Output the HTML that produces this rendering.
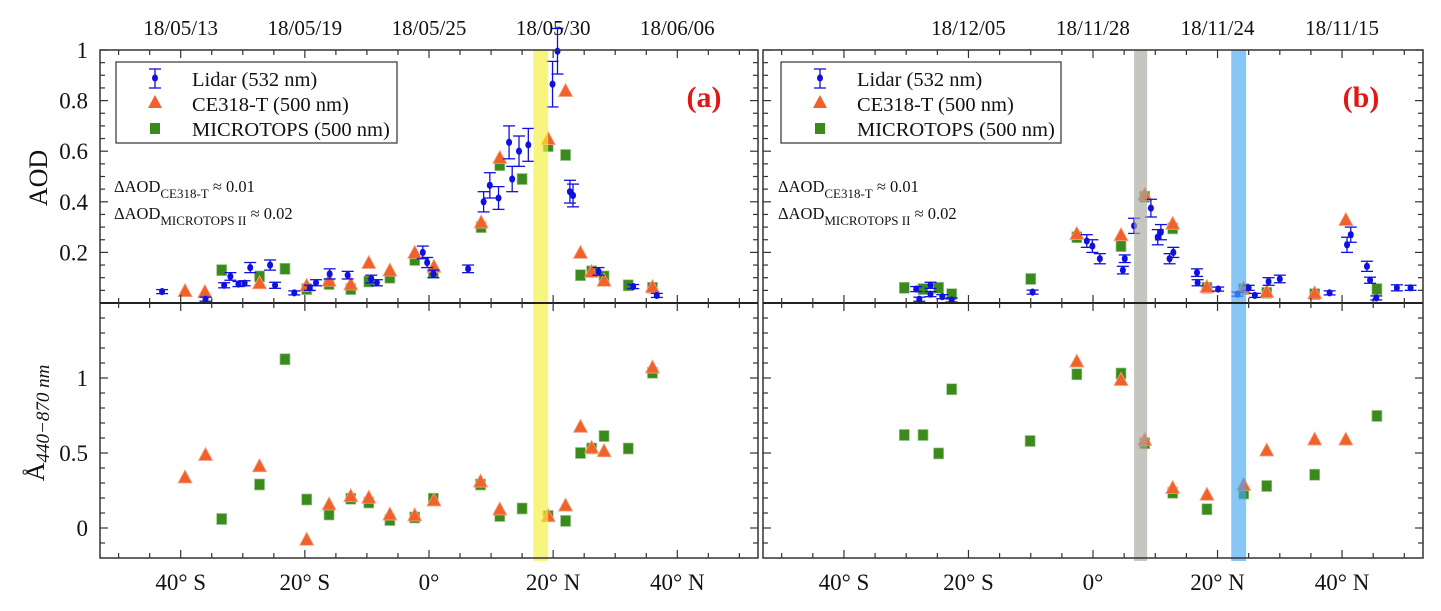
<!DOCTYPE html>
<html><head><meta charset="utf-8">
<style>
html,body{margin:0;padding:0;background:#fff;}
svg{display:block;font-family:"Liberation Serif",serif;}
</style></head>
<body>
<svg id="chart" width="1441" height="611" viewBox="0 0 1441 611" xmlns="http://www.w3.org/2000/svg"></svg>
<script>
// ---------- data (latitude in degrees, +N / -S) ----------
// Panel (a)
const aLidarLat = [-43,-36,-33,-32,-30.7,-29.7,-28.8,-25.6,-24.8,-21.7,-19.2,-18.2,-16,-13.1,-9.3,-8.4,-1,-0.3,0.7,6.3,8.8,9.8,11.2,12.9,13.4,14.5,16,19.9,20.7,22.7,23.2,27.3,32.9,36.7];
const aLidarAod = [0.045,0.015,0.07,0.105,0.075,0.078,0.14,0.15,0.07,0.04,0.06,0.08,0.115,0.11,0.095,0.08,0.20,0.16,0.115,0.135,0.40,0.465,0.415,0.635,0.49,0.60,0.625,0.865,0.995,0.44,0.425,0.125,0.065,0.03];
const aLidarErr = [0.008,0.008,0.01,0.015,0.01,0.01,0.02,0.02,0.012,0.008,0.01,0.012,0.02,0.015,0.015,0.012,0.025,0.02,0.015,0.015,0.04,0.05,0.045,0.065,0.05,0.06,0.065,0.09,0.09,0.045,0.045,0.015,0.008,0.008];
const aCeLat = [-39.3,-36.1,-27.3,-19.7,-16.1,-12.6,-9.7,-6.3,-2.3,0.8,8.4,11.4,19.2,22,24.4,26.2,28.2,36];
const aCeAod = [0.049,0.045,0.08,0.07,0.09,0.075,0.16,0.13,0.20,0.145,0.32,0.575,0.65,0.84,0.20,0.125,0.09,0.065];
const aMtLat = [-33.4,-27.3,-23.2,-19.7,-16.1,-12.6,-9.7,-6.3,-2.3,0.7,8.4,11.4,15,19.2,22,24.4,26.2,28.2,32.1,36];
const aMtAod = [0.13,0.105,0.135,0.055,0.075,0.055,0.085,0.1,0.17,0.12,0.30,0.545,0.49,0.62,0.585,0.11,0.125,0.105,0.07,0.06];
const aCeAngLat = [-39.3,-36,-27.3,-19.7,-16.1,-12.6,-9.7,-6.3,-2.3,0.8,8.3,11.4,19.2,22,24.4,26.2,28.2,36];
const aCeAng = [0.34,0.49,0.415,-0.075,0.16,0.215,0.205,0.093,0.087,0.187,0.313,0.127,0.082,0.153,0.678,0.538,0.515,1.073];
const aMtAngLat = [-33.4,-27.3,-23.2,-19.7,-16.1,-12.6,-9.7,-6.3,-2.3,0.7,8.3,11.4,15,19.2,22,24.4,26.2,28.2,32.1,36];
const aMtAng = [0.06,0.29,1.125,0.19,0.09,0.195,0.17,0.053,0.07,0.195,0.29,0.08,0.13,0.08,0.047,0.50,0.53,0.613,0.53,1.035];
// Panel (b)
const bLidarLat = [-28.4,-27.9,-26.1,-26.1,-24.2,-22.7,-9.7,-1,-0.1,1.1,4.8,5.1,6.6,9.3,10.4,10.9,12.3,12.9,16.7,16.8,20.1,23.2,25,26,28.2,30,38,40.8,41.4,44,44.5,45.5,48.8,51];
const bLidarAod = [0.055,0.015,0.035,0.07,0.025,0.012,0.043,0.245,0.225,0.175,0.13,0.175,0.305,0.375,0.26,0.28,0.175,0.2,0.12,0.08,0.055,0.035,0.06,0.03,0.085,0.095,0.04,0.23,0.27,0.145,0.09,0.02,0.06,0.06];
const bLidarErr = [0.01,0.008,0.01,0.012,0.008,0.008,0.008,0.025,0.025,0.02,0.015,0.015,0.03,0.035,0.03,0.03,0.02,0.02,0.015,0.012,0.008,0.008,0.01,0.008,0.015,0.015,0.008,0.03,0.03,0.02,0.012,0.008,0.012,0.01];
const bCeLat = [-2.6,4.5,8.3,12.8,18.3,24.2,27.9,35.6,40.6];
const bCeAod = [0.275,0.27,0.43,0.315,0.065,0.06,0.045,0.04,0.33];
const bMtLat = [-30.3,-27.3,-24.8,-22.7,-10,-2.6,4.5,8.3,12.8,18.3,24.2,27.9,35.6,45.6];
const bMtAod = [0.06,0.055,0.06,0.035,0.095,0.26,0.225,0.42,0.295,0.06,0.055,0.04,0.035,0.055];
const bCeAngLat = [-2.6,4.5,8.3,12.8,18.3,24.2,27.9,35.6,40.6];
const bCeAng = [1.113,0.99,0.59,0.27,0.225,0.29,0.52,0.593,0.593];
const bMtAngLat = [-30.3,-27.3,-24.8,-22.7,-10.1,-2.6,4.5,8.3,12.8,18.3,24.2,27.9,35.6,45.6];
const bMtAng = [0.62,0.62,0.497,0.925,0.58,1.025,1.03,0.565,0.235,0.125,0.23,0.28,0.355,0.747];
// axis labels
const xTickLats = [-40,-20,0,20,40];
const xTickLabels = ["40° S","20° S","0°","20° N","40° N"];
const aDateLabels = ["18/05/13","18/05/19","18/05/25","18/05/30","18/06/06"];
const bDateLabels = ["18/12/05","18/11/28","18/11/24","18/11/15"];
const bDateLats = [-20,0,20,40];
const aodTicks = [0.2,0.4,0.6,0.8,1];
const aodTickLabels = ["0.2","0.4","0.6","0.8","1"];
const angTicks = [0,0.5,1];
const angTickLabels = ["0","0.5","1"];
// shaded bands (lat ranges)
const aBand = [16.8,19.2];
const bGrayBand = [6.6,8.7];
const bBlueBand = [22.2,24.6];

// ---------- geometry ----------
const NS = "http://www.w3.org/2000/svg";
const svg = document.getElementById('chart');
const TOP = 50, MID = 303, BOT = 558;
const panels = {a:{x0:100,x1:758}, b:{x0:763,x1:1423}};
const LATMIN = -53, LATMAX = 53;
function xs(p, lat){ const P = panels[p]; return P.x0 + (lat - LATMIN)/(LATMAX - LATMIN)*(P.x1 - P.x0); }
function yAod(v){ return MID - v*(MID - TOP); }
function yAng(v){ return MID + (1.5 - v)/1.7*(BOT - MID); }
function el(tag, attrs, parent){ const e = document.createElementNS(NS, tag); for (const k in attrs) e.setAttribute(k, attrs[k]); (parent||svg).appendChild(e); return e; }
function txt(str, attrs, parent){ const e = el('text', attrs, parent); e.textContent = str; return e; }

const BLUE = "#1010e0", ORANGE = "#f0622a", GREEN = "#3a8a1c";

function drawLidar(p, lats, vals, errs, g){
  lats.forEach((lat,i)=>{
    const x = xs(p,lat), y = yAod(vals[i]), e = errs[i]*(MID-TOP);
    const grp = el('g', {}, g);
    
    
    el('line',{x1:x,y1:y-e,x2:x,y2:y+e,stroke:BLUE,'stroke-width':1.3},grp);
    el('line',{x1:x-6,y1:y-e,x2:x+6,y2:y-e,stroke:BLUE,'stroke-width':1.3},grp);
    el('line',{x1:x-6,y1:y+e,x2:x+6,y2:y+e,stroke:BLUE,'stroke-width':1.3},grp);
    el('ellipse',{cx:x,cy:y,rx:3,ry:3.6,fill:BLUE},grp);
  });
}
function drawTri(p, lats, vals, yfn, g){
  lats.forEach((lat,i)=>{
    const x = xs(p,lat), y = yfn(vals[i]);
    const t = el('polygon',{points:`${x},${y-7} ${x-7},${y+6} ${x+7},${y+6}`,fill:ORANGE,stroke:"#f6a080",'stroke-width':0.8},g);
    
    
  });
}
function drawSq(p, lats, vals, yfn, g){
  lats.forEach((lat,i)=>{
    const x = xs(p,lat), y = yfn(vals[i]);
    const s = el('rect',{x:x-5,y:y-5.5,width:10,height:11,fill:GREEN,stroke:"#9cc48a",'stroke-width':0.7},g);
    
    
  });
}

function drawPanel(p){
  const P = panels[p];
  const g = el('g',{});
  
  
  // data
  if (p==='a'){
    drawSq(p,aMtLat,aMtAod,yAod,g); drawTri(p,aCeLat,aCeAod,yAod,g); drawLidar(p,aLidarLat,aLidarAod,aLidarErr,g);
    drawSq(p,aMtAngLat,aMtAng,yAng,g); drawTri(p,aCeAngLat,aCeAng,yAng,g);
  } else {
    drawSq(p,bMtLat,bMtAod,yAod,g); drawTri(p,bCeLat,bCeAod,yAod,g); drawLidar(p,bLidarLat,bLidarAod,bLidarErr,g);
    drawSq(p,bMtAngLat,bMtAng,yAng,g); drawTri(p,bCeAngLat,bCeAng,yAng,g);
  }
  // bands
  const bands = p==='a' ? [[aBand,"#f5ef3a"]] : [[bGrayBand,"#a8a8a0"],[bBlueBand,"#4aa8f5"]];
  bands.forEach(([b,c])=>{
    const r = el('rect',{x:xs(p,b[0]),y:TOP,width:xs(p,b[1])-xs(p,b[0]),height:BOT-TOP+3,fill:c,opacity:0.65},g);
    
    
  });
  // frame
  el('rect',{x:P.x0,y:TOP,width:P.x1-P.x0,height:BOT-TOP,fill:'none',stroke:'#333','stroke-width':1.5},g);
  el('line',{x1:P.x0,y1:MID,x2:P.x1,y2:MID,stroke:'#222','stroke-width':2},g);
  // x ticks
  for (let lat=-50; lat<=50; lat+=5){
    const x = xs(p,lat), L = (lat%20===0)?8:5;
    [[TOP,1],[BOT,-1],[MID,1],[MID,-1]].forEach(([y,d])=>{
      el('line',{x1:x,y1:y,x2:x,y2:y+d*L,stroke:'#333','stroke-width':1.2},g);
    });
  }
  // y ticks top
  for (let v=0.05; v<1.0001; v+=0.05){
    const y = yAod(v), major = Math.abs(v/0.2-Math.round(v/0.2))<1e-6, L = major?8:5;
    el('line',{x1:P.x0,y1:y,x2:P.x0+L,y2:y,stroke:'#333','stroke-width':1.2},g);
    el('line',{x1:P.x1,y1:y,x2:P.x1-L,y2:y,stroke:'#333','stroke-width':1.2},g);
  }
  for (let v=-0.1; v<1.5; v+=0.1){
    const y = yAng(v), major = Math.abs(v/0.5-Math.round(v/0.5))<1e-6, L = major?8:5;
    el('line',{x1:P.x0,y1:y,x2:P.x0+L,y2:y,stroke:'#333','stroke-width':1.2},g);
    el('line',{x1:P.x1,y1:y,x2:P.x1-L,y2:y,stroke:'#333','stroke-width':1.2},g);
  }
  // x labels
  xTickLats.forEach((lat,i)=>{
    const t = txt(xTickLabels[i],{x:xs(p,lat),y:590,'text-anchor':'middle','font-size':23,fill:'#111'},g);
    
    
  });
  // date labels
  const dl = p==='a'?aDateLabels:bDateLabels, dlat = p==='a'?xTickLats:bDateLats;
  dl.forEach((s,i)=>{
    const t = txt(s,{x:xs(p,dlat[i]),y:35,'text-anchor':'middle','font-size':21,fill:'#111'},g);
    
    
  });
  // legend
  const lx = p==='a'?116:781;
  const lg = el('g',{},g);
  
  
  el('rect',{x:lx,y:62,width:p==='a'?281:280,height:81,fill:'#fff',stroke:'#333','stroke-width':1.2},lg);
  const mx = lx+39;
  el('line',{x1:mx,y1:69,x2:mx,y2:88,stroke:BLUE,'stroke-width':1.3},lg);
  el('line',{x1:mx-6,y1:69,x2:mx+6,y2:69,stroke:BLUE,'stroke-width':1.3},lg);
  el('line',{x1:mx-6,y1:88,x2:mx+6,y2:88,stroke:BLUE,'stroke-width':1.3},lg);
  el('ellipse',{cx:mx,cy:78,rx:3,ry:3.6,fill:BLUE},lg);
  el('polygon',{points:`${mx},${95} ${mx-7},${108} ${mx+7},${108}`,fill:ORANGE},lg);
  el('rect',{x:mx-5,y:123,width:10,height:11,fill:GREEN},lg);
  const names = ["Lidar (532 nm)","CE318-T (500 nm)","MICROTOPS (500 nm)"];
  names.forEach((n,i)=>{
    const t = txt(n,{x:lx+76,y:86+i*25,'font-size':20.5,fill:'#111'},lg);
    
    
  });
  // panel letter
  const pl = txt('('+p+')',{x:p==='a'?704:1361,y:107,'text-anchor':'middle','font-size':30,'font-weight':'bold',fill:'#e01818'},g);
  
  
  // delta annotations
  const dx = p==='a'?114:778;
  const d1 = txt('',{x:dx,y:192,'font-size':16.5,fill:'#111'},g);
  d1.innerHTML = 'ΔAOD<tspan dy="6" font-size="13">CE318-T</tspan><tspan dy="-6"> ≈ 0.01</tspan>';
  
  
  const d2 = txt('',{x:dx,y:219,'font-size':16.5,fill:'#111'},g);
  d2.innerHTML = 'ΔAOD<tspan dy="6" font-size="13">MICROTOPS II</tspan><tspan dy="-6"> ≈ 0.02</tspan>';
  
  
}
drawPanel('a');
drawPanel('b');

// y tick labels (panel a only)
aodTicks.forEach((v,i)=>{
  const t = txt(aodTickLabels[i],{x:88,y:yAod(v)+8,'text-anchor':'end','font-size':23,fill:'#111'});
  
  
});
angTicks.forEach((v,i)=>{
  const t = txt(angTickLabels[i],{x:88,y:yAng(v)+8,'text-anchor':'end','font-size':23,fill:'#111'});
  
  
});
// axis titles
const yt1 = txt('AOD',{x:0,y:0,'text-anchor':'middle','font-size':26,fill:'#111',transform:'translate(47,178) rotate(-90)'});


const yt2 = txt('',{x:0,y:0,'text-anchor':'middle','font-size':26,fill:'#111',transform:'translate(44,423) rotate(-90)'});
yt2.innerHTML = 'Å<tspan dy="5" font-size="19" font-style="italic">440−870 nm</tspan>';


</script>
</body></html>
